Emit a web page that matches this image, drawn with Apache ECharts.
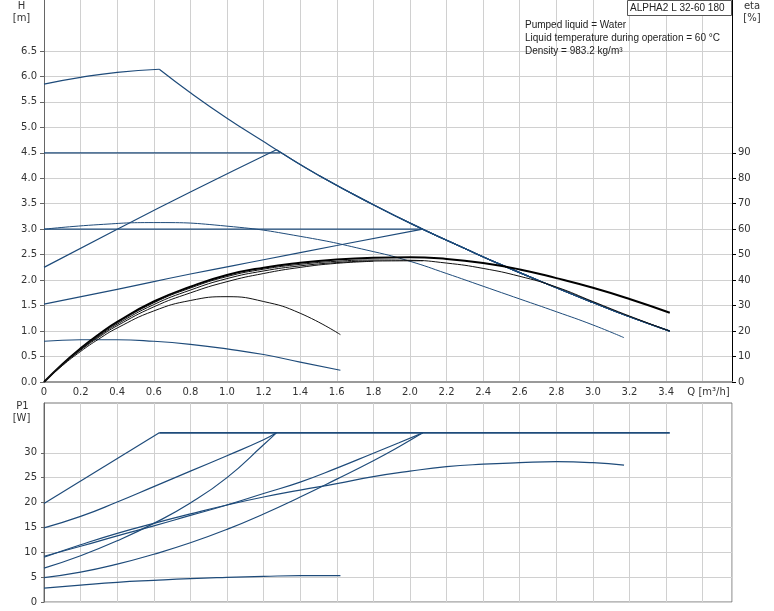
<!DOCTYPE html>
<html><head><meta charset="utf-8">
<script src="https://cdn.jsdelivr.net/npm/echarts@6/dist/echarts.min.js"></script>
<style>html,body{margin:0;padding:0;background:#fff}#c{width:774px;height:611px}</style>
</head><body><div id="c"></div>
<script>
// ---- tick labels ----
const Q_LABELS = [0,0.2,0.4,0.6,0.8,1.0,1.2,1.4,1.6,1.8,2.0,2.2,2.4,2.6,2.8,3.0,3.2,3.4];
const H_LABELS = [0,0.5,1.0,1.5,2.0,2.5,3.0,3.5,4.0,4.5,5.0,5.5,6.0,6.5];
const ETA_LABELS = [0,10,20,30,40,50,60,70,80,90];
const P_LABELS = [0,5,10,15,20,25,30];

// ---- head curves H [m] ----
const qMaxRise = [0,0.2,0.4,0.63];
const hMaxRise = [5.85,5.98,6.08,6.14];
const qMaxFall = [0.63,0.8,1.0,1.2,1.27,1.5,1.8,2.07,2.3,2.5,2.8,3.0,3.2,3.42];
const hMaxFall = [6.14,5.68,5.18,4.72,4.56,4.06,3.48,3.0,2.62,2.3,1.85,1.56,1.28,1.0];
const qCp45 = [0,1.29];
const hCp45 = [4.5,4.5];
const qCp30 = [0,2.07];
const hCp30 = [3.0,3.0];
const qPpHigh = [0,0.4,0.8,1.27];
const hPpHigh = [2.25,3.0,3.73,4.56];
const qPpLow = [0,0.4,0.8,1.2,1.6,2.07];
const hPpLow = [1.53,1.82,2.12,2.4,2.68,3.0];
const qSpeed = [0,0.3,0.6,1.0,1.4,1.8,2.0,2.2,2.4,2.6,2.8,3.0,3.17];
const hSpeed = [3.0,3.09,3.13,3.06,2.86,2.56,2.37,2.13,1.88,1.63,1.38,1.12,0.87];
const qMin = [0,0.2,0.4,0.6,0.8,1.0,1.2,1.4,1.62];
const hMin = [0.8,0.83,0.83,0.8,0.74,0.65,0.54,0.39,0.23];

// ---- efficiency curves eta [%] ----
const qEta = [0,0.1,0.2,0.3,0.4,0.6,0.8,1.0,1.2,1.4,1.6,1.8,2.0,2.2,2.4,2.6,2.8,3.0,3.2,3.42];
const etaA = [0,7.0,13.2,18.7,23.6,31.6,37.4,42.0,44.9,46.8,48.1,48.8,49.0,48.3,46.7,44.2,40.8,37.0,32.6,27.2];
const etaB = [0,6.9,13.0,18.4,23.2,31.1,36.9,41.4,44.3,46.2,47.4,47.9,47.8,46.7,44.6,41.5,37.3,31.6,25.9,20.0];
const qEtaC = [0,0.1,0.2,0.3,0.4,0.6,0.8,1.0,1.2,1.4,1.6,1.8,2.07];
const etaC = [0,6.8,12.7,18.0,22.7,30.4,36.1,40.6,43.6,45.6,46.9,47.5,47.6];
const qEtaE = [0,0.1,0.2,0.3,0.4,0.6,0.8,1.0,1.2,1.4,1.6,1.8];
const etaE = [0,6.7,12.5,17.6,22.1,29.5,35.0,39.4,42.6,45.0,46.6,47.4];
const qEtaMin = [0,0.1,0.2,0.3,0.4,0.6,0.8,1.0,1.2,1.4,1.62];
const etaMin = [0,6.4,12.0,16.9,21.2,27.9,32.0,33.5,31.6,27.0,18.6];

// ---- power curves P1 [W] ----
const qPMax = [0,0.63];
const pPMax = [19.8,34];
const qFlat = [0.63,3.42];
const pFlat = [34,34];
const qP2 = [0,0.2,0.4,0.6,0.8,1.0,1.2,1.27];
const pP2 = [14.9,17.2,20.1,23.2,26.3,29.4,32.6,34];
const qP3 = [0,0.2,0.4,0.6,0.8,1.0,1.2,1.27];
const pP3 = [6.8,9.3,12.3,15.8,19.9,25.0,31.6,34];
const qP4a = [0,0.2,0.4,0.6,0.8,1.0,1.2,1.4,1.6,1.8,1.94,2.07];
const pP4a = [9.2,11.2,13.3,15.3,17.4,19.5,21.8,24.1,26.9,29.9,32.0,34];
const qP5 = [0,0.2,0.4,0.6,0.8,1.0,1.2,1.4,1.6,1.8,1.94,2.07];
const pP5 = [4.9,6.0,7.6,9.6,11.9,14.6,17.7,21.1,24.7,28.4,31.2,34];
const qP4b = [0,0.2,0.4,0.6,0.8,1.0,1.2,1.4,1.6,1.8,2.0,2.2,2.4,2.6,2.8,3.0,3.17];
const pP4b = [9.0,11.5,13.8,15.8,17.7,19.5,21.1,22.5,23.8,25.2,26.3,27.2,27.7,28.0,28.2,28.0,27.5];
const qPMin = [0,0.2,0.4,0.6,0.8,1.0,1.2,1.4,1.62];
const pPMin = [2.8,3.4,3.95,4.35,4.7,4.95,5.15,5.3,5.3];

const BLUE = '#1e4b7a';
const FONT = 'DejaVu Sans';
const TFONT = 'Liberation Sans';

function zip(q, v) { return q.map((x, i) => [x, v[i]]); }
function tailFrom(q0) {
  return zip(qMaxFall, hMaxFall).filter(p => p[0] >= q0);
}
function ser(data, opt) {
  return Object.assign({
    type: 'line', data: data, symbol: 'none', silent: true, animation: false,
    xAxisIndex: 0, yAxisIndex: 0, smooth: 0.5, clip: true,
    lineStyle: { color: BLUE, width: 1.2 }
  }, opt || {});
}
const fmtQ = v => (Math.abs(v) < 1e-9 ? '0' : v.toFixed(1));

const series = [
  // head curves
  ser(zip(qMaxRise, hMaxRise)),
  ser(zip(qMaxFall, hMaxFall)),
  ser(zip(qCp45, hCp45), { smooth: false }),
  ser(tailFrom(1.29)),
  ser(zip(qCp30, hCp30), { smooth: false }),
  ser(tailFrom(2.07)),
  ser(zip(qPpHigh, hPpHigh)),
  ser(tailFrom(1.27)),
  ser(zip(qPpLow, hPpLow)),
  ser(tailFrom(2.07)),
  ser(zip(qSpeed, hSpeed), { lineStyle: { color: BLUE, width: 1 } }),
  ser(zip(qMin, hMin)),
  // efficiency curves
  ser(zip(qEta, etaA), { yAxisIndex: 1, lineStyle: { color: '#000', width: 2 } }),
  ser(zip(qEta, etaB), { yAxisIndex: 1, lineStyle: { color: '#111', width: 1 } }),
  ser(zip(qEtaC, etaC), { yAxisIndex: 1, lineStyle: { color: '#111', width: 1 } }),
  ser(zip(qEtaE, etaE), { yAxisIndex: 1, lineStyle: { color: '#111', width: 1 } }),
  ser(zip(qEtaMin, etaMin), { yAxisIndex: 1, lineStyle: { color: '#111', width: 1 } }),
  // power curves
  ser(zip(qPMax, pPMax), { xAxisIndex: 1, yAxisIndex: 2, smooth: false }),
  ser(zip(qFlat, pFlat), { xAxisIndex: 1, yAxisIndex: 2, smooth: false, lineStyle: { color: BLUE, width: 1.6 } }),
  ser(zip(qP2, pP2), { xAxisIndex: 1, yAxisIndex: 2 }),
  ser(zip(qP3, pP3), { xAxisIndex: 1, yAxisIndex: 2 }),
  ser(zip(qP4a, pP4a), { xAxisIndex: 1, yAxisIndex: 2 }),
  ser(zip(qP5, pP5), { xAxisIndex: 1, yAxisIndex: 2 }),
  ser(zip(qP4b, pP4b), { xAxisIndex: 1, yAxisIndex: 2 }),
  ser(zip(qPMin, pPMin), { xAxisIndex: 1, yAxisIndex: 2 })
];

const gridLine = { show: true, lineStyle: { color: '#d0d0d0', width: 1 } };
const lbl = { fontFamily: FONT, fontSize: 10, color: '#333' };
function txt(t, x, y, extra) {
  return Object.assign({ type: 'text', style: { text: t, x: x, y: y, align: 'center', verticalAlign: 'middle', font: '10px ' + FONT, fill: '#333' } }, extra || {});
}

const option = {
  animation: false,
  backgroundColor: '#fff',
  grid: [
    { left: 44, top: 0, width: 688, height: 382, show: false },
    { left: 44, top: 403, width: 688, height: 199, show: true, borderColor: '#777', borderWidth: 1, backgroundColor: 'transparent' }
  ],
  xAxis: [
    { type: 'value', gridIndex: 0, min: 0, max: 3.76, interval: 0.2,
      axisLine: { show: true, onZero: false, lineStyle: { color: '#9a9a9a', width: 2 } },
      axisTick: { show: false },
      axisLabel: Object.assign({ margin: 5, formatter: fmtQ, customValues: Q_LABELS }, lbl),
      splitLine: gridLine },
    { type: 'value', gridIndex: 1, min: 0, max: 3.76, interval: 0.2,
      axisLine: { show: false }, axisTick: { show: false }, axisLabel: { show: false },
      splitLine: gridLine }
  ],
  yAxis: [
    { type: 'value', gridIndex: 0, min: 0, max: 7.5, interval: 0.5, position: 'left',
      axisLine: { show: true, onZero: false, lineStyle: { color: '#666', width: 1 } },
      axisTick: { show: true, length: 4, customValues: H_LABELS, lineStyle: { color: '#666' } },
      axisLabel: Object.assign({ margin: 7, formatter: v => v.toFixed(1), customValues: H_LABELS }, lbl),
      splitLine: gridLine },
    { type: 'value', gridIndex: 0, min: 0, max: 150, interval: 10, position: 'right',
      axisLine: { show: true, onZero: false, lineStyle: { color: '#000', width: 1 } },
      axisTick: { show: true, length: 4, customValues: ETA_LABELS, lineStyle: { color: '#000' } },
      axisLabel: Object.assign({ margin: 6, customValues: ETA_LABELS }, lbl),
      splitLine: { show: false } },
    { type: 'value', gridIndex: 1, min: 0, max: 40, interval: 5, position: 'left',
      axisLine: { show: true, onZero: false, lineStyle: { color: '#666', width: 1 } },
      axisTick: { show: true, length: 3, customValues: P_LABELS, lineStyle: { color: '#666' } },
      axisLabel: Object.assign({ margin: 7, customValues: P_LABELS }, lbl),
      splitLine: gridLine }
  ],
  graphic: [
    txt('H', 21.5, 6),
    txt('[m]', 21.5, 18),
    txt('eta', 752, 6),
    txt('[%]', 752, 18),
    txt('P1', 22.5, 406),
    txt('[W]', 21.5, 418),
    txt('Q [m³/h]', 708.5, 392),
    { type: 'rect', shape: { x: 627.5, y: 0.5, width: 104, height: 15 }, style: { fill: '#fff', stroke: '#555', lineWidth: 1 }, z: 10 },
    { type: 'text', style: { text: 'ALPHA2 L 32-60 180', x: 630, y: 8, align: 'left', verticalAlign: 'middle', font: '10px ' + TFONT, fill: '#222' }, z: 11 },
    { type: 'text', style: { text: 'Pumped liquid = Water', x: 525, y: 25.5, align: 'left', verticalAlign: 'middle', font: '10px ' + TFONT, fill: '#222' }, z: 11 },
    { type: 'text', style: { text: 'Liquid temperature during operation = 60 °C', x: 525, y: 38.5, align: 'left', verticalAlign: 'middle', font: '10px ' + TFONT, fill: '#222' }, z: 11 },
    { type: 'text', style: { text: 'Density = 983.2 kg/m³', x: 525, y: 51.5, align: 'left', verticalAlign: 'middle', font: '10px ' + TFONT, fill: '#222' }, z: 11 }
  ],
  series: series
};

const chart = echarts.init(document.getElementById('c'), null, { renderer: 'canvas' });
chart.setOption(option);
</script>
</body></html>
